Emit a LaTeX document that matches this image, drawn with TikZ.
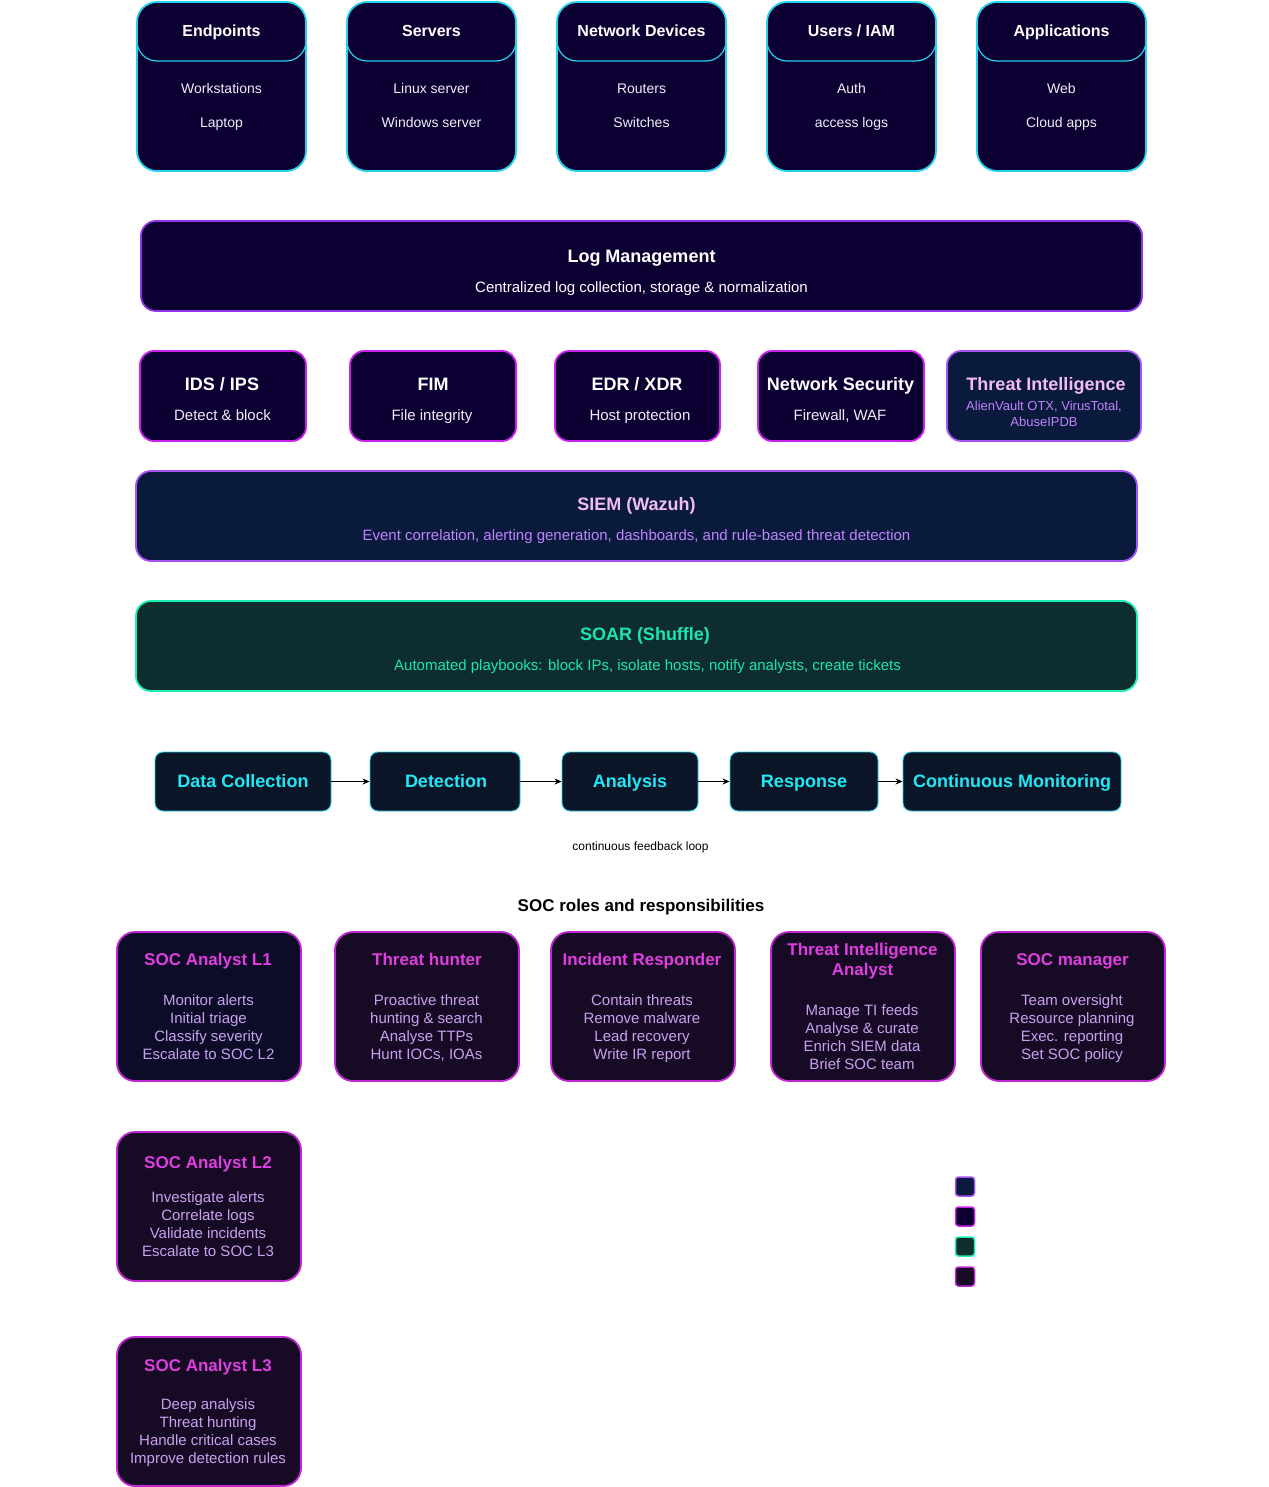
\documentclass[tikz,border=0pt]{standalone}
\usepackage{fontspec}
\setmainfont{Liberation Sans}
\usetikzlibrary{arrows.meta}
\definecolor{topfill}{HTML}{0C0033}
\definecolor{cyanline}{HTML}{22D3EE}
\definecolor{purpline}{HTML}{9333EA}
\definecolor{magline}{HTML}{CC22EE}
\definecolor{navyfill}{HTML}{0A1A3C}
\definecolor{violetline}{HTML}{A855F7}
\definecolor{pinktxt}{HTML}{F2BDF0}
\definecolor{lavtxt}{HTML}{C084FC}
\definecolor{soarfill}{HTML}{0D2D2E}
\definecolor{soarline}{HTML}{1AF0B4}
\definecolor{soartxt}{HTML}{1CE6B0}
\definecolor{flowfill}{HTML}{0A1628}
\definecolor{flowtxt}{HTML}{22E8F5}
\definecolor{rolefillA}{HTML}{0D0C28}
\definecolor{rolefillB}{HTML}{170A24}
\definecolor{roleline}{HTML}{C026D3}
\definecolor{roletitle}{HTML}{E03EE0}
\definecolor{roleitem}{HTML}{C8A2F0}
\definecolor{itemtxt}{HTML}{EEEEF4}
\tikzset{
  sl/.style={text height=#1, text depth=0pt},
  ml/.style={text depth=0pt},
  srcbox/.style={draw=cyanline, line width=1.8pt, fill=topfill, rounded corners=20pt, inner sep=0pt, minimum width=169pt, minimum height=169pt},
  srctitle/.style={text=white, font=\fontsize{16}{16}\selectfont\bfseries, sl=11.5pt},
  srcitem/.style={text=itemtxt, font=\fontsize{14}{14}\selectfont, sl=10pt},
  widebox/.style={line width=1.8pt, rounded corners=15pt, inner sep=0pt, minimum width=1001pt, minimum height=90pt},
  widetitle/.style={font=\fontsize{18}{18}\selectfont\bfseries, sl=12.9pt},
  widesub/.style={font=\fontsize{15}{15}\selectfont, sl=10.7pt},
  toolbox/.style={draw=magline, line width=1.8pt, fill=topfill, rounded corners=14pt, inner sep=0pt, minimum height=90pt},
  tooltitle/.style={text=white, font=\fontsize{18}{18}\selectfont\bfseries, sl=12.9pt},
  toolsub/.style={text=itemtxt, font=\fontsize{15}{15}\selectfont, sl=10.7pt},
  flowbox/.style={draw=cyanline, line width=0.9pt, fill=flowfill, rounded corners=8pt, inner sep=0pt, minimum height=59pt, text=flowtxt, font=\fontsize{18}{18}\selectfont\bfseries, sl=12.9pt},
  flowarrow/.style={-{Stealth[length=7pt,width=6pt]}, line width=0.9pt, black},
  rolebox/.style={draw=roleline, line width=1.8pt, rounded corners=18pt, inner sep=0pt, minimum width=184pt, minimum height=149pt},
  roletitle/.style={text=roletitle, font=\fontsize{17}{17}\selectfont\bfseries, sl=12.2pt},
  roleitems/.style={text=roleitem, font=\fontsize{15}{18}\selectfont, align=center, ml},
  legbox/.style={line width=1.5pt, rounded corners=3pt, inner sep=0pt, minimum width=19pt, minimum height=19pt},
}
\begin{document}
\begin{tikzpicture}[x=1pt,y=-1pt]
\useasboundingbox[fill=white] (0,0) rectangle (1268,1487);

% ---------- Data sources ----------
\foreach \nm/\cx/\ttl/\a/\b in {ep/221.5/Endpoints/Workstations/Laptop,
                                sv/431.5/Servers/Linux server/Windows server,
                                nd/641.5/Network Devices/Routers/Switches,
                                us/851.5/{Users / IAM}/Auth/access logs,
                                ap/1061.5/Applications/Web/Cloud apps}{
  \node[srcbox] (\nm) at (\cx,86.5) {};
  \draw[cyanline, line width=1.2pt, rounded corners=20pt] (\cx-84.5,25) -- (\cx-84.5,61) -- (\cx+84.5,61) -- (\cx+84.5,25);
  \node[srctitle] (\nm-t) at (\cx,31) {\ttl};
  \node[srcitem] (\nm-a) at (\cx,89) {\a};
  \node[srcitem] (\nm-b) at (\cx,123) {\b};
}

% ---------- Log management ----------
\node[widebox, draw=purpline, fill=topfill] (log) at (641.5,266) {};
\node[widetitle, text=white] (log-t) at (641.5,256) {Log Management};
\node[widesub, text=white] (log-s) at (641.5,287) {Centralized log collection, storage \& normalization};

% ---------- Tools ----------
\node[toolbox, minimum width=166pt] (ids) at (223,396) {};
\node[tooltitle] (ids-t) at (222,384) {IDS / IPS};
\node[toolsub] (ids-s) at (222.5,415) {Detect \& block};
\node[toolbox, minimum width=166pt] (fim) at (433,396) {};
\node[tooltitle] (fim-t) at (433,384) {FIM};
\node[toolsub] (fim-s) at (432,415) {File integrity};
\node[toolbox, minimum width=165pt] (edr) at (637.5,396) {};
\node[tooltitle] (edr-t) at (637,384) {EDR / XDR};
\node[toolsub] (edr-s) at (640,415) {Host protection};
\node[toolbox, minimum width=166pt] (nsec) at (841,396) {};
\node[tooltitle] (nsec-t) at (840.5,384) {Network Security};
\node[toolsub] (nsec-s) at (840,415) {Firewall, WAF};
\node[draw=violetline, fill=navyfill, line width=1.8pt, rounded corners=14pt, inner sep=0pt, minimum width=194pt, minimum height=90pt] (ti) at (1044,396) {};
\node[widetitle, text=pinktxt] (ti-t) at (1046,384) {Threat Intelligence};
\node[text=lavtxt, font=\fontsize{13}{16}\selectfont, align=center, ml] (ti-s) at (1044,414) {AlienVault OTX, VirusTotal,\\AbuseIPDB};

% ---------- SIEM ----------
\node[widebox, draw=violetline, fill=navyfill] (siem) at (636.5,516) {};
\node[widetitle, text=pinktxt] (siem-t) at (636.5,504) {SIEM (Wazuh)};
\node[widesub, text=lavtxt] (siem-s) at (636.5,535) {Event correlation, alerting generation, dashboards, and rule-based threat detection};

% ---------- SOAR ----------
\node[widebox, draw=soarline, fill=soarfill] (soar) at (636.5,646) {};
\node[widetitle, text=soartxt] (soar-t) at (645,634) {SOAR (Shuffle)};
\node[widesub, text=soartxt] (soar-s) at (647.5,665) {Automated playbooks: block IPs, isolate hosts, notify analysts, create tickets};

% ---------- Flow ----------
\node[flowbox, minimum width=176pt] (f1) at (243,781.5) {Data Collection};
\node[flowbox, minimum width=150pt] (f2) at (445,781.5) {\hspace*{2pt}Detection};
\node[flowbox, minimum width=136pt] (f3) at (630,781.5) {Analysis};
\node[flowbox, minimum width=148pt] (f4) at (804,781.5) {Response};
\node[flowbox, minimum width=218pt] (f5) at (1012,781.5) {Continuous Monitoring};
\draw[flowarrow] (f1) -- (f2);
\draw[flowarrow] (f2) -- (f3);
\draw[flowarrow] (f3) -- (f4);
\draw[flowarrow] (f4) -- (f5);
\node[text=black, font=\fontsize{12}{12}\selectfont, sl=8.6pt] (loop) at (640.5,846) {continuous feedback loop};

% ---------- Roles ----------
\node[text=black, font=\fontsize{17}{17}\selectfont\bfseries, sl=12.2pt] (roles) at (641,905) {SOC roles and responsibilities};

\node[rolebox, fill=rolefillA] (l1) at (209,1006.5) {};
\node[roletitle] (l1-t) at (208,959) {SOC Analyst L1};
\node[roleitems] (l1-s) at (208.5,1027) {Monitor alerts\\Initial triage\\Classify severity\\Escalate to SOC L2};

\node[rolebox, fill=rolefillB] (th) at (427,1006.5) {};
\node[roletitle] (th-t) at (427,959) {Threat hunter};
\node[roleitems] (th-s) at (426.5,1027) {Proactive threat\\hunting \& search\\Analyse TTPs\\Hunt IOCs, IOAs};

\node[rolebox, fill=rolefillB] (ir) at (643,1006.5) {};
\node[roletitle] (ir-t) at (642,959) {Incident Responder};
\node[roleitems] (ir-s) at (642,1027) {Contain threats\\Remove malware\\Lead recovery\\Write IR report};

\node[rolebox, fill=rolefillB] (tia) at (863,1006.5) {};
\node[roletitle, align=center, font=\fontsize{17}{20}\selectfont\bfseries, text height=, ml] (tia-t) at (862.5,959) {Threat Intelligence\\Analyst};
\node[roleitems] (tia-s) at (862,1037) {Manage TI feeds\\Analyse \& curate\\Enrich SIEM data\\Brief SOC team};

\node[rolebox, fill=rolefillB] (mgr) at (1073,1006.5) {};
\node[roletitle] (mgr-t) at (1072.5,959) {SOC manager};
\node[roleitems] (mgr-s) at (1072,1027) {Team oversight\\Resource planning\\Exec. reporting\\Set SOC policy};

\node[rolebox, fill=rolefillB] (l2) at (209,1206.5) {};
\node[roletitle] (l2-t) at (208,1162) {SOC Analyst L2};
\node[roleitems] (l2-s) at (208,1224) {Investigate alerts\\Correlate logs\\Validate incidents\\Escalate to SOC L3};

\node[rolebox, fill=rolefillB] (l3) at (209,1411.5) {};
\node[roletitle] (l3-t) at (208,1365) {SOC Analyst L3};
\node[roleitems] (l3-s) at (208,1431) {Deep analysis\\Threat hunting\\Handle critical cases\\Improve detection rules};

% ---------- Legend squares ----------
\node[legbox, draw=violetline, fill=navyfill] (lg1) at (965,1186.5) {};
\node[legbox, draw=magline, fill=topfill] (lg2) at (965,1216.5) {};
\node[legbox, draw=soarline, fill=soarfill] (lg3) at (965,1246.5) {};
\node[legbox, draw=roleline, fill=rolefillB] (lg4) at (965,1276.5) {};
\end{tikzpicture}
\end{document}
